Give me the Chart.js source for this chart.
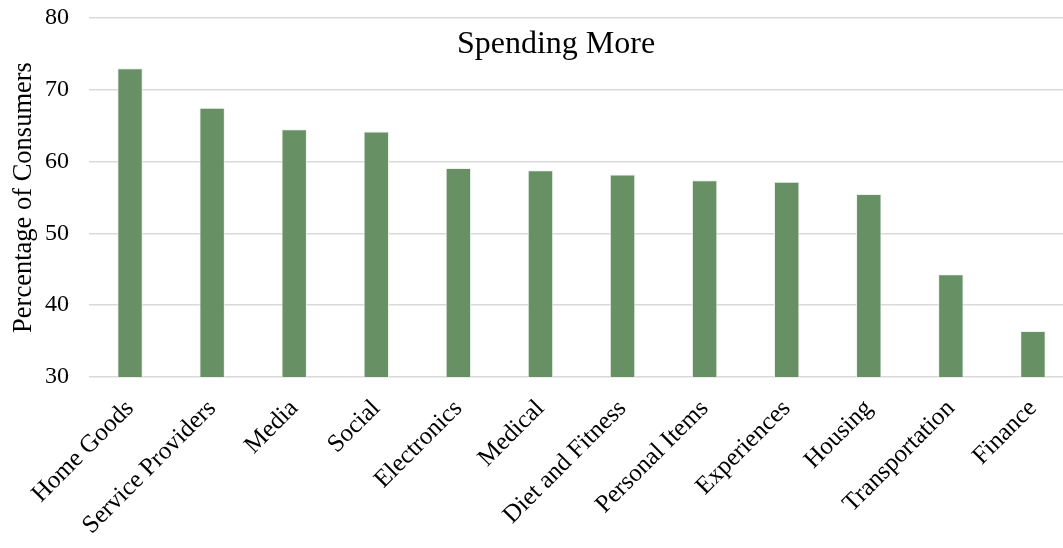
<!DOCTYPE html>
<html>
<head>
<meta charset="utf-8">
<script src="https://cdn.jsdelivr.net/npm/chart.js@4"></script>
<style>
  html, body { margin: 0; padding: 0; background: #fff; overflow: hidden; }
  #wrap { width: 1074px; height: 556px; margin-top: -8px; }
</style>
</head>
<body>
<div id="wrap"><canvas id="chart"></canvas></div>
<script>
const categories = ['Home Goods', 'Service Providers', 'Media', 'Social', 'Electronics', 'Medical',
  'Diet and Fitness', 'Personal Items', 'Experiences', 'Housing', 'Transportation', 'Finance'];
const spendingMore = [73.0, 67.5, 64.5, 64.2, 59.1, 58.8, 58.2, 57.4, 57.2, 55.5, 44.3, 36.4];
const yTicks = [30, 40, 50, 60, 70, 80];

const serif = "'Liberation Serif', 'Times New Roman', serif";

// title sits inside the plot area, a bit right of the window centre
const insideTitle = {
  id: 'insideTitle',
  afterDraw(chart) {
    const ctx = chart.ctx;
    ctx.save();
    ctx.font = '32px ' + serif;
    ctx.fillStyle = '#000';
    ctx.textAlign = 'center';
    ctx.textBaseline = 'middle';
    ctx.fillText('Spending More', 556, chart.chartArea.top + 27);
    ctx.restore();
  }
};

new Chart(document.getElementById('chart'), {
  type: 'bar',
  data: {
    labels: categories,
    datasets: [{
      label: 'Spending More',
      data: spendingMore,
      backgroundColor: '#679165',
      borderColor: 'rgba(235, 242, 234, 0.9)',
      borderWidth: 1,
      categoryPercentage: 1,
      barPercentage: 0.31
    }]
  },
  options: {
    responsive: true,
    maintainAspectRatio: false,
    animation: false,
    layout: { padding: { top: 0, right: 0, left: 0, bottom: 0 } },
    plugins: {
      legend: { display: false },
      tooltip: { enabled: false }
    },
    scales: {
      x: {
        grid: { display: false },
        border: { display: false },
        ticks: {
          color: '#000',
          font: { family: serif, size: 25 },
          maxRotation: 45,
          minRotation: 45,
          autoSkip: false,
          padding: 9
        },
        afterFit(scale) { scale.height = 171; }
      },
      y: {
        min: 30,
        max: 80,
        afterBuildTicks(scale) { scale.ticks = yTicks.map(v => ({ value: v })); },
        grid: { color: '#d9d9d9', lineWidth: 1.5, drawTicks: false },
        border: { display: false },
        ticks: {
          color: '#000',
          font: { family: serif, size: 24, lineHeight: 0.5 },
          padding: 20
        },
        title: {
          display: true,
          text: 'Percentage of Consumers',
          color: '#000',
          font: { family: serif, size: 26.5 },
          padding: { top: 8, bottom: 0 }
        },
        afterFit(scale) { scale.width = 89; }
      }
    }
  },
  plugins: [insideTitle]
});
</script>
</body>
</html>
